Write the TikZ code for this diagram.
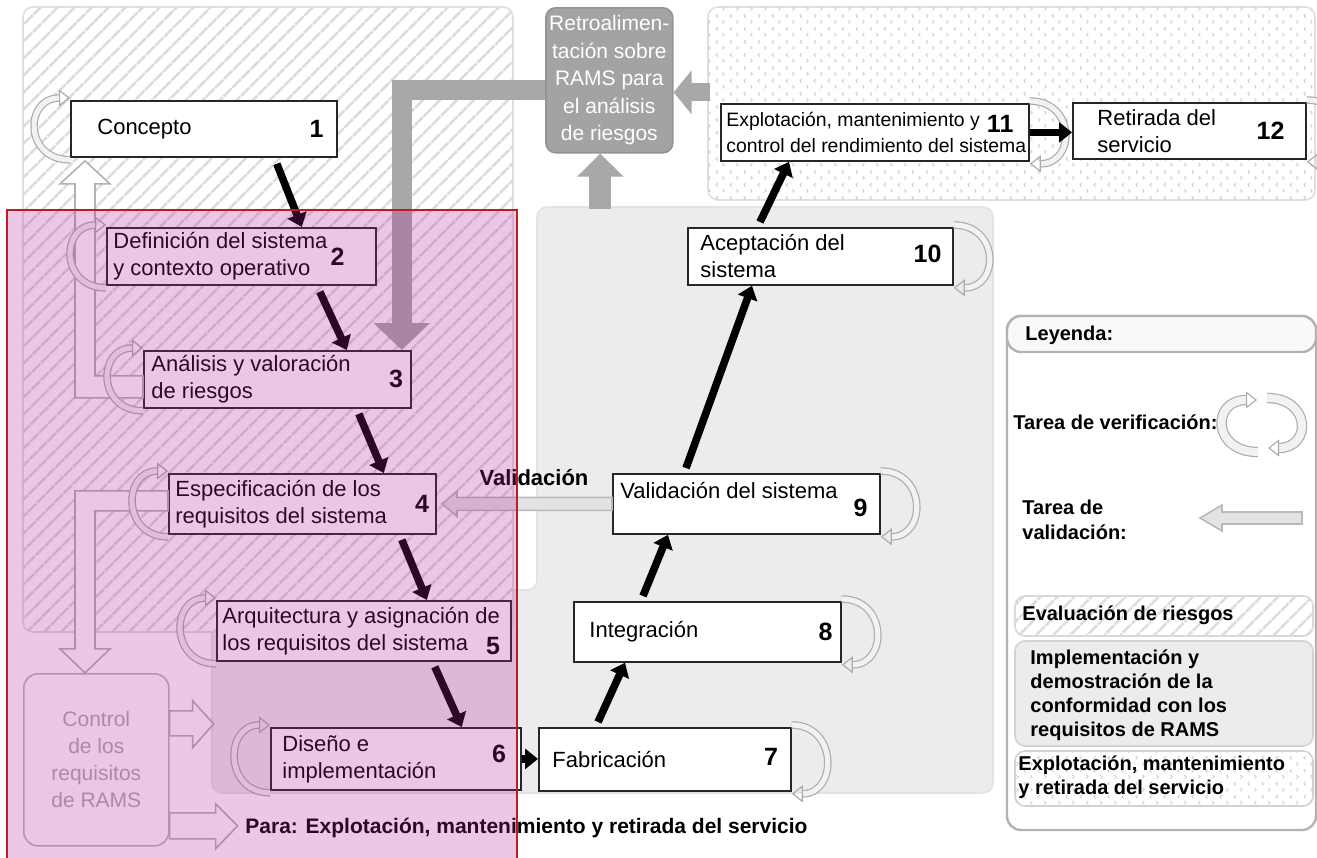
\documentclass[tikz,border=0pt]{standalone}
\usepackage{fontspec}
\setmainfont{Liberation Sans}
\usetikzlibrary{arrows.meta,patterns,patterns.meta}

\definecolor{rosa}{RGB}{179,35,155}
\definecolor{marco}{RGB}{185,30,35}

\pgfdeclarepatternformonly{chevrons}{\pgfpointorigin}{\pgfpoint{7pt}{6.5pt}}{\pgfpoint{7pt}{6.5pt}}{%
  \pgfsetlinewidth{0.35pt}%
  \pgfpathmoveto{\pgfpoint{2pt}{5.8pt}}\pgfpathlineto{\pgfpoint{1pt}{4.9pt}}\pgfpathlineto{\pgfpoint{2pt}{4pt}}%
  \pgfpathmoveto{\pgfpoint{4.5pt}{2.6pt}}\pgfpathlineto{\pgfpoint{5.5pt}{1.7pt}}\pgfpathlineto{\pgfpoint{4.5pt}{0.8pt}}%
  \pgfusepath{stroke}}

\newcommand\fase[8]{\node(#1)[fase,anchor=north west,minimum width=#3,minimum height=#4] at (#2) {};
  \node(#1t)[fasetxt,anchor=west] at ([xshift=#5]#1.west) {#6};
  \node(#1n)[num,anchor=east] at ([shift={(#8)}]#1.east) {#7};}
\newcommand\lazoizq[1]{\draw[verif] ([yshift=-1pt]#1.south west) .. controls +(-46,0) and +(-46,0) .. ([yshift=1pt]#1.north west);}
\newcommand\lazoder[1]{\draw[verif] ([yshift=1pt]#1.north east) .. controls +(46,0) and +(46,0) .. ([yshift=-1pt]#1.south east);}

\begin{document}
\begin{tikzpicture}[x=0.5pt,y=-0.5pt,
    fase/.style={draw=black!85,line width=0.9pt,fill=white,inner sep=0pt},
    fasetxt/.style={inner sep=0pt,align=left,font=\fontsize{11}{13.5}\selectfont},
    num/.style={inner sep=0pt,font=\fontsize{12.5}{14}\selectfont\bfseries},
    flow/.style={line width=3.8pt,-{Triangle[width=10pt,length=6.5pt]}},
    verif/.style={draw=gray!65,line width=0.6pt,double=gray!10,double distance=2.6pt,-{Triangle[open,width=8.5pt,length=5.5pt]}},
    bigarrow/.style={draw=gray!68,line width=9pt,-{Triangle[width=21.5pt,length=9pt]}},
    hollow/.style={draw=gray!60,fill=white,line width=0.8pt},
    valarrow/.style={draw=gray!55,fill=gray!22,line width=0.8pt},
    region/.style={rounded corners=5pt,line width=0.8pt},
    leg/.style={inner sep=0pt,align=left,font=\fontsize{10}{12.5}\selectfont\bfseries}]

\useasboundingbox (0,0) rectangle (1317,857);

% zonas de fondo
\path[region,draw=gray!22,fill=gray!15] (537,207) -- (993,207) -- (993,793) -- (212,793) -- (212,590) -- (537,590) -- cycle;
\path[region,draw=gray!25,fill=white] (23,7) rectangle (513,632);
\path[region,pattern={Lines[angle=45,distance=6.5pt,line width=1.5pt]},pattern color=gray!28] (23,7) rectangle (513,632);
\path[region,draw=gray!25,fill=white] (708,7) rectangle (1315,200);
\path[region,pattern=chevrons,pattern color=gray!45] (708,7) rectangle (1315,200);

% fases
\fase{c1}{70,100}{133pt}{28pt}{13.5pt}{Concepto}{1}{-7pt,0pt}
\fase{c2}{106,227}{134.5pt}{28.5pt}{3.5pt}{Definición del sistema\\y contexto operativo}{2}{-16pt,0pt}
\fase{c3}{143,350}{133.5pt}{28.5pt}{4pt}{Análisis y valoración\\de riesgos}{3}{-4.25pt,0pt}
\fase{c4}{168,473}{133.5pt}{30pt}{3.5pt}{Especificación de los\\requisitos del sistema}{4}{-3.75pt,0pt}
\fase{c5}{216,600}{147pt}{30pt}{3pt}{Arquitectura y asignación de\\los requisitos del sistema}{5}{-5.75pt,-7.5pt}
\fase{c6}{270,727}{125pt}{31pt}{6pt}{Diseño e\\implementación}{6}{-7.75pt,2.5pt}
\fase{c7}{538,727}{126pt}{31.5pt}{7pt}{Fabricación}{7}{-6.75pt,1.5pt}
\fase{c8}{573,601}{133.5pt}{30pt}{8pt}{Integración}{8}{-4.5pt,0pt}
\fase{c9}{612,473}{133.5pt}{30pt}{4pt}{Validación del sistema\\\mbox{}}{9}{-6.5pt,-2pt}
\fase{c10}{687,227}{132.5pt}{28.5pt}{6.5pt}{Aceptación del\\sistema}{10}{-6pt,1.5pt}
\node(c11)[fase,anchor=north west,minimum width=154pt,minimum height=28.5pt] at (720,103) {};
\node(c11t)[fasetxt,anchor=west,font=\fontsize{9.7}{13}\selectfont] at ([xshift=3pt]c11.west) {Explotación, mantenimiento y\\control del rendimiento del sistema};
\node(c11n)[num,anchor=east] at ([shift={(-8pt,4.5pt)}]c11.east) {11};
\fase{c12}{1072,102}{116.5pt}{28pt}{12.5pt}{Retirada del\\servicio}{12}{-11pt,0pt}

\node(retro)[draw=gray!85,fill=gray!72,rounded corners=5pt,line width=0.8pt,anchor=north west,
    minimum width=63.5pt,minimum height=72.5pt,inner sep=1pt,align=center,text=white,
    font=\fontsize{10.5}{13.75}\selectfont] at (545,7) {Retroalimen-\\tación sobre\\RAMS para\\el análisis\\de riesgos};
\node(ctrl)[draw=gray!55,fill=white,rounded corners=7pt,line width=0.8pt,anchor=north west,
    minimum width=72.5pt,minimum height=86pt,align=center,text=gray!65,
    font=\fontsize{10.5}{13.5}\selectfont] at (23,673) {Control\\de los\\requisitos\\de RAMS};
\node(para)[inner sep=0pt,anchor=west,font=\fontsize{10.5}{12}\selectfont\bfseries] at (245,828) {Para: Explotación, mantenimiento y retirada del servicio};
\node(val)[inner sep=0pt,font=\fontsize{11}{13}\selectfont\bfseries] at (534,478) {Validación};

% flechas grises
\draw[bigarrow,line width=11pt,-{Triangle[width=22.5pt,length=11.5pt]}] ([xshift=-4.5pt,yshift=-27.5pt]retro.south) -- ([xshift=-4.5pt]retro.south);
\draw[bigarrow] ([xshift=18pt,yshift=-6pt]retro.east) -- ([yshift=-6pt]retro.east);
\draw[bigarrow,line width=10pt,-{Triangle[width=27.5pt,length=13.5pt]}] ([yshift=-4.75pt]retro.west) -| ([xshift=-5pt]c3.north east);

% flechas huecas
\draw[hollow] ([yshift=1.75pt]c3.west) -- ++(-48,0) -- ++(0,-192) -- ++(15,0) -- ++(-25,-23) -- ++(-25,23) -- ++(15,0) |- ([yshift=-9.25pt]c3.west) -- cycle;
\draw[hollow] ([yshift=6.5pt]c4.west) -- ++(-93,0) -- ++(0,158) -- ++(-15,0) -- ++(25,24) -- ++(25,-24) -- ++(-15,0) |- ([yshift=-3.5pt]c4.west) -- cycle;
\draw[hollow] ([yshift=24.5pt]ctrl.east) -- ++(23,0) -- ++(0,-10) -- ++(21,23) -- ++(-21,24) -- ++(0,-12) -- ++(-23,0) -- cycle;
\draw[hollow] ([yshift=-26.5pt]ctrl.east) -- ++(46,0) -- ++(0,-9) -- ++(22,22) -- ++(-22,23) -- ++(0,-10) -- ++(-46,0) -- cycle;
\draw[valarrow] ([yshift=3.25pt]c9.west) -- ++(-155,0) -- ++(0,-6) -- ++(-15,12.5) -- ++(15,12.5) -- ++(0,-6) -- ++(155,0) -- cycle;

% verificacion
\lazoizq{c1} \lazoizq{c2} \lazoizq{c3} \lazoizq{c4} \lazoizq{c5} \lazoizq{c6}
\lazoder{c7} \lazoder{c8} \lazoder{c9} \lazoder{c10} \lazoder{c11} \lazoder{c12}

% secuencia
\draw[flow] ([xshift=-30.5pt,yshift=-3pt]c1.south east) -- ([xshift=-37.5pt]c2.north east);
\draw[flow] ([xshift=-28.5pt,yshift=-3pt]c2.south east) -- ([xshift=-32.5pt]c3.north east);
\draw[flow] ([xshift=-26.5pt,yshift=-2.5pt]c3.south east) -- ([xshift=-26.5pt]c4.north east);
\draw[flow] ([xshift=-17.5pt,yshift=-2.5pt]c4.south east) -- ([xshift=-42.5pt]c5.north east);
\draw[flow] ([xshift=-38.5pt,yshift=-2.5pt]c5.south east) -- ([xshift=-30pt]c6.north east);
\draw[flow] (c6.east) -- (c6.east -| c7.west);
\draw[flow] ([xshift=30pt,yshift=2.5pt]c7.north west) -- ([xshift=26pt]c8.south west);
\draw[flow] ([xshift=35pt,yshift=2.5pt]c8.north west) -- ([xshift=28pt]c9.south west);
\draw[flow] ([xshift=37pt,yshift=2.5pt]c9.north west) -- ([xshift=32.5pt]c10.south west);
\draw[flow] ([xshift=36.5pt,yshift=2.5pt]c10.north west) -- ([xshift=34.5pt]c11.south west);
\draw[flow] (c11.east) -- (c11.east -| c12.west);

% marco rosa
\fill[rosa,fill opacity=0.25] (7,210) rectangle (517,862);
\draw[marco,line width=1pt] (7,210) rectangle (517,862);

% leyenda
\draw[draw=gray!60,line width=1.2pt,rounded corners=7pt] (1007,316) rectangle (1316,830);
\draw[draw=gray!60,line width=1.2pt,fill=gray!5,rounded corners=7pt] (1007,316) rectangle (1316,352);
\node(ley)[leg,anchor=west] at (1025,335) {Leyenda:};
\node(lver)[leg,anchor=west] at (1013,422) {Tarea de verificación:};
\draw[verif,double distance=4pt] (1258,452) .. controls +(-46,0) and +(-46,0) .. (1257,400);
\draw[verif,double distance=4pt] (1267,398) .. controls +(44,0) and +(44,0) .. (1268,448);
\node(lval)[leg,anchor=west] at (1022,520) {Tarea de\\validación:};
\draw[valarrow] (1302,512) -- (1222,512) -- (1222,505) -- (1200,518) -- (1222,531) -- (1222,524) -- (1302,524) -- cycle;
\path[region,draw=gray!30,fill=white] (1015,596) rectangle (1313,636);
\path[region,pattern={Lines[angle=45,distance=6.5pt,line width=1.5pt]},pattern color=gray!28] (1015,596) rectangle (1313,636);
\node(leva)[leg,anchor=west] at (1022,615) {Evaluación de riesgos};
\path[region,draw=gray!35,fill=gray!15] (1015,641) rectangle (1313,746);
\node(limp)[leg,anchor=west,font=\fontsize{10}{12}\selectfont\bfseries] at (1030,695) {Implementación y\\demostración de la\\conformidad con los\\requisitos de RAMS};
\path[region,draw=gray!35,fill=white] (1015,751) rectangle (1313,806);
\path[region,pattern=chevrons,pattern color=gray!45] (1015,751) rectangle (1313,806);
\node(lexp)[leg,anchor=west,font=\fontsize{10}{12}\selectfont\bfseries] at (1018,777) {Explotación, mantenimiento\\y retirada del servicio};
\end{tikzpicture}
\end{document}
